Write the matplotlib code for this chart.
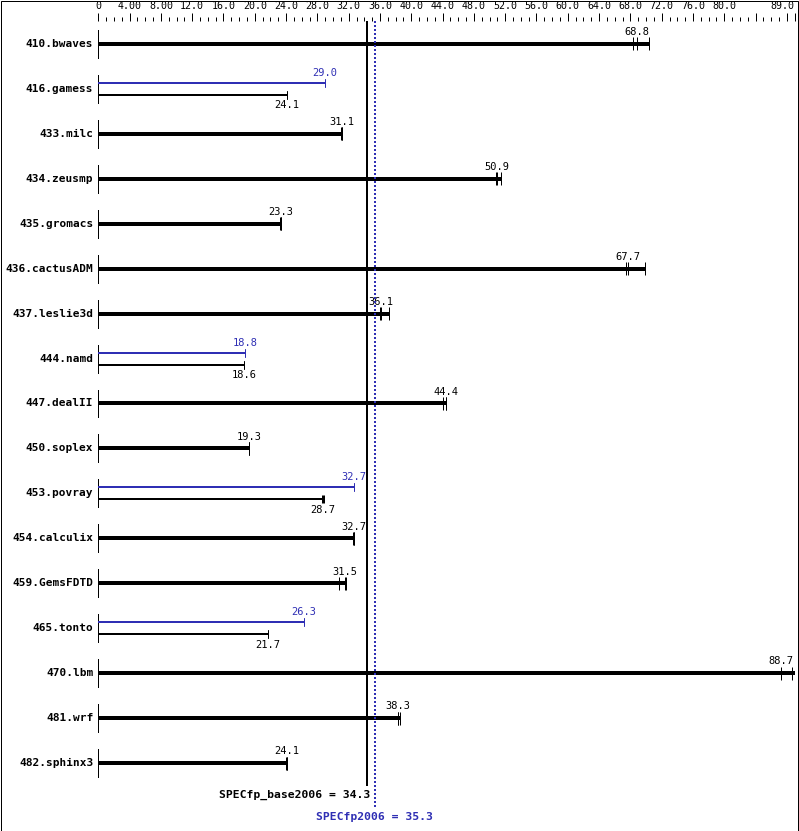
import numpy as np
import matplotlib
matplotlib.use("Agg")
import matplotlib.pyplot as plt
from matplotlib.patches import Rectangle

names = ["410.bwaves", "416.gamess", "433.milc", "434.zeusmp", "435.gromacs",
         "436.cactusADM", "437.leslie3d", "444.namd", "447.dealII", "450.soplex",
         "453.povray", "454.calculix", "459.GemsFDTD", "465.tonto", "470.lbm",
         "481.wrf", "482.sphinx3"]

# three runs per benchmark, median is the reported score
base_runs = [[68.3, 68.8, 70.4], [24.1, 24.1, 24.1], [31.0, 31.1, 31.1],
             [50.8, 50.9, 51.5], [23.2, 23.3, 23.3], [67.5, 67.7, 69.9],
             [36.0, 36.1, 37.1], [18.6, 18.6, 18.6], [44.1, 44.4, 44.4],
             [19.2, 19.3, 19.3], [28.6, 28.7, 28.9], [32.6, 32.7, 32.7],
             [30.7, 31.5, 31.7], [21.7, 21.7, 21.7], [87.2, 88.7, 89.0],
             [38.3, 38.3, 38.6], [24.0, 24.1, 24.1]]
peak_runs = {"416.gamess": [29.0, 29.0, 29.0], "444.namd": [18.8, 18.8, 18.8],
             "453.povray": [32.7, 32.7, 32.7], "465.tonto": [26.3, 26.3, 26.3]}

base_score = 34.3
peak_score = 35.3
xmax = 89.0

blue = "#2f2fb4"
mono = "DejaVu Sans Mono"
W, H = 799, 831

fig = plt.figure(figsize=(W / 100, H / 100), dpi=100)
ax = fig.add_axes([98.3 / W, 1 - 786 / H, 696.4 / W, 765 / H])
row_px = 44.94
ax.set_xlim(0, xmax)
ax.set_ylim(16 + (786 - 763) / row_px, -(44 - 21) / row_px)
for s in ax.spines.values():
    s.set_visible(False)

px = 0.72  # one pixel in points
ax.xaxis.tick_top()
major = list(np.arange(0, 89, 4)) + [xmax]
labels = []
for v in major:
    if v == 0:
        labels.append("0")
    elif v > 80 and v != xmax:
        labels.append("")
    elif v < 10:
        labels.append("%.2f" % v)
    else:
        labels.append("%.1f" % v)
ax.set_xticks(major)
ax.set_xticklabels(labels, fontfamily=mono, fontsize=7.2)
ax.get_xticklabels()[-1].set_horizontalalignment("right")
ax.set_xticks(np.arange(0, 90, 1), minor=True)
ax.tick_params(axis="x", which="major", direction="out", length=8 * px, width=px, pad=1.5)
ax.tick_params(axis="x", which="minor", direction="out", length=4.5 * px, width=px)
ax.set_yticks([])

def run_ticks(y, runs, half, color):
    for r in runs:
        ax.plot([r, r], [y - half, y + half], color=color, lw=px, solid_capstyle="butt")

def value_label(x, y, dy, color):
    ha = "center"
    dx = 0
    if x > 85:
        ha = "right"
        dx = 1 * px
    ax.annotate("%.1f" % x, (x, y), xytext=(dx, dy), textcoords="offset points",
                ha=ha, va="center", color=color, fontfamily=mono, fontsize=7.5)

for i, name in enumerate(names):
    ax.plot([0, 0], [i - 14 / row_px, i + 14 / row_px], color="black", lw=px)
    ax.text(-5 / 7.825, i, name, ha="right", va="center", fontfamily=mono,
            fontweight="bold", fontsize=8)
    b = base_runs[i]
    med = sorted(b)[1]
    if name in peak_runs:
        p = peak_runs[name]
        pmed = sorted(p)[1]
        yp = i - 6 / row_px
        yb = i + 6 / row_px
        ax.plot([0, max(p)], [yp, yp], color=blue, lw=2 * px, solid_capstyle="butt")
        run_ticks(yp, p, 4 / row_px, blue)
        ax.plot([0, max(b)], [yb, yb], color="black", lw=2 * px, solid_capstyle="butt")
        run_ticks(yb, b, 4 / row_px, "black")
        value_label(pmed, yp, 10 * px, blue)
        value_label(med, yb, -10.5 * px, "black")
    else:
        ax.plot([0, max(b)], [i, i], color="black", lw=4 * px, solid_capstyle="butt")
        run_ticks(i, b, 6.5 / row_px, "black")
        value_label(med, i, 11.7 * px, "black")

y0, y1 = ax.get_ylim()
ax.plot([base_score, base_score], [y0, y1], color="black", lw=2 * px, solid_capstyle="butt", zorder=3)
ax.plot([peak_score, peak_score], [y0 + (807 - 786) / row_px, y1], color=blue, lw=2 * px,
        linestyle=(0, (1, 1)), clip_on=False, zorder=3)

fig.text(370.7 / W, 1 - 795 / H, "SPECfp_base2006 = %.1f" % base_score, ha="right", va="center",
         fontfamily=mono, fontweight="bold", fontsize=8.2)
fig.text(374 / W, 1 - 816.7 / H, "SPECfp2006 = %.1f" % peak_score, ha="center", va="center",
         fontfamily=mono, fontweight="bold", fontsize=8.2, color=blue)

fig.patches.append(Rectangle((0.5 / W, 0.5 / H), 1 - 1.5 / W, 1 - 1.5 / H, transform=fig.transFigure,
                             fill=False, edgecolor="black", lw=px))

fig.savefig("out.png", dpi=100)
